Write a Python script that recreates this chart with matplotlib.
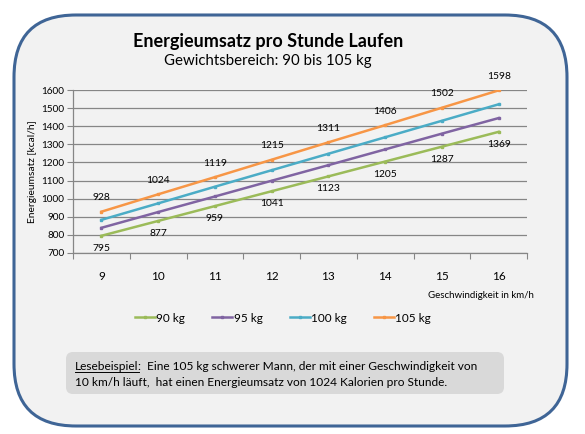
import matplotlib
matplotlib.use('Agg')
import matplotlib.pyplot as plt
from matplotlib.patches import FancyBboxPatch
from matplotlib.lines import Line2D

plt.rcParams['font.family'] = ['Lato', 'DejaVu Sans']

# data
speeds = [9, 10, 11, 12, 13, 14, 15, 16]
kcal_90 = [795, 877, 959, 1041, 1123, 1205, 1287, 1369]
kcal_95 = [839, 926, 1012, 1099, 1185, 1272, 1359, 1445]
kcal_100 = [883, 974, 1066, 1157, 1248, 1339, 1430, 1521]
kcal_105 = [928, 1024, 1119, 1215, 1311, 1406, 1502, 1598]
series_labels = ['90 kg', '95 kg', '100 kg', '105 kg']
y_ticks = [700, 800, 900, 1000, 1100, 1200, 1300, 1400, 1500, 1600]

colors = ['#9BBB59', '#8064A2', '#4BACC6', '#F79646']
W, H = 585, 434

fig = plt.figure(figsize=(W / 100, H / 100), dpi=100)
fig.patch.set_facecolor('white')

# background layer in pixel coordinates
bg = fig.add_axes([0, 0, 1, 1], zorder=0)
bg.set_xlim(0, W)
bg.set_ylim(H, 0)
bg.axis('off')
bg.add_patch(FancyBboxPatch((14, 15), 553, 411, boxstyle='round,pad=0,rounding_size=62',
                            facecolor='#F2F2F2', edgecolor='#3F6596', linewidth=2.2))
bg.add_patch(FancyBboxPatch((66, 352), 438, 42, boxstyle='round,pad=0,rounding_size=7',
                            facecolor='#D9D9D9', edgecolor='none'))

bg.text(268, 42, 'Energieumsatz pro Stunde Laufen', ha='center', va='center',
        fontsize=13, fontweight='bold', color='black')
bg.text(268, 61, 'Gewichtsbereich: 90 bis 105 kg', ha='center', va='center',
        fontsize=10.8, color='black')

# Lesebeispiel
t = bg.text(75, 366, 'Lesebeispiel', ha='left', va='center', fontsize=8.6)
fig.canvas.draw()
bb = t.get_window_extent(renderer=fig.canvas.get_renderer())
x0, x1 = bb.x0, bb.x1
bg.plot([x0, x1], [372, 372], color='black', lw=0.7)
bg.text(x1, 366, ':  Eine 105 kg schwerer Mann, der mit einer Geschwindigkeit von',
        ha='left', va='center', fontsize=8.6)
bg.text(75, 382, '10 km/h läuft,  hat einen Energieumsatz von 1024 Kalorien pro Stunde.',
        ha='left', va='center', fontsize=8.6)

# chart
ax = fig.add_axes([73 / W, 1 - 253 / H, (527 - 73) / W, (253 - 90) / H], zorder=1)
ax.set_facecolor('none')
all_series = [kcal_90, kcal_95, kcal_100, kcal_105]
for vals, c, lab in zip(all_series, colors, series_labels):
    ax.plot(speeds, vals, color=c, lw=1.8, marker='s', markersize=1.6, label=lab)

for x, y in zip(speeds, kcal_105):
    ax.annotate(str(y), (x, y), xytext=(0, 10), textcoords='offset points',
                ha='center', va='center', fontsize=7.4)
for x, y in zip(speeds, kcal_90):
    ax.annotate(str(y), (x, y), xytext=(0, -9), textcoords='offset points',
                ha='center', va='center', fontsize=7.4)

ax.set_xlim(8.5, 16.5)
ax.set_ylim(700, 1600)
ax.set_yticks(y_ticks)
ax.set_yticklabels([str(v) for v in y_ticks], fontsize=7.2)
ax.set_xticks([s + 0.5 for s in speeds[:-1]] + [8.5, 16.5])
ax.set_xticklabels([])
ax.set_xticks(speeds, minor=True)
ax.set_xticklabels([str(s) for s in speeds], minor=True, fontsize=8.5)
ax.tick_params(axis='x', which='major', length=4, color='#868686', direction='out')
ax.tick_params(axis='x', which='minor', length=0, pad=13)
ax.tick_params(axis='y', length=4, color='#868686', pad=2)
ax.grid(axis='y', color='#868686', lw=0.9)
ax.set_axisbelow(True)
for side in ['top', 'right']:
    ax.spines[side].set_visible(False)
for side in ['left', 'bottom']:
    ax.spines[side].set_color('#868686')
    ax.spines[side].set_linewidth(0.9)

ax.set_ylabel('Energieumsatz [kcal/h]', fontsize=7.4, labelpad=3)
bg.text(534, 296, 'Geschwindigkeit in km/h', ha='right', va='center', fontsize=7)

handles = [Line2D([0], [0], color=c, lw=1.8, marker='s', markersize=1.6) for c in colors]
fig.legend(handles, series_labels, loc='center', bbox_to_anchor=(283 / W, 1 - 318 / H),
           ncol=4, frameon=False, fontsize=8.5, handlelength=1.7, handletextpad=0.1,
           columnspacing=2.3)

fig.savefig('out.png', dpi=100)
